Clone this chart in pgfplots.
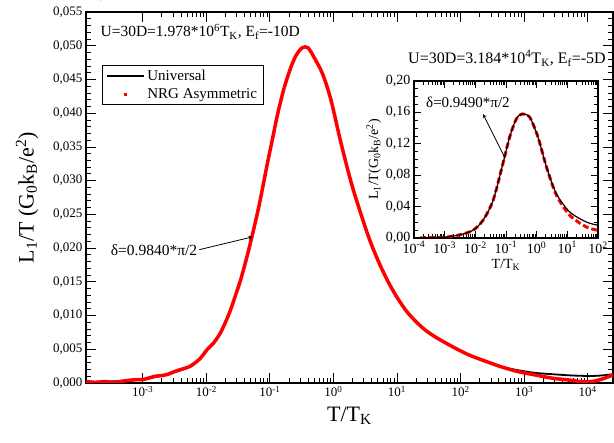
\documentclass[border=0pt]{standalone}
\usepackage{pgfplots}
\pgfplotsset{compat=1.18}
\usepackage{fontspec}
\setmainfont{Liberation Serif}

% main curve, universal
\pgfplotstableread{
x y
1.29e-4 0.0001
2.51e-4 0.0002
5.01e-4 0.0003
1.0e-3 0.0005
1.58e-3 0.0009
2.51e-3 0.0013
3.98e-3 0.0019
5.62e-3 0.0025
7.94e-3 0.0036
1.02e-2 0.0049
1.32e-2 0.0060
1.66e-2 0.0074
2.0e-2 0.0090
2.4e-2 0.0108
2.88e-2 0.0130
3.47e-2 0.0153
4.27e-2 0.0184
5.25e-2 0.0218
6.76e-2 0.0263
9.12e-2 0.0325
0.110 0.0362
0.132 0.0398
0.166 0.0436
0.214 0.0468
0.263 0.0487
0.324 0.0497
0.398 0.0497
0.501 0.0482
0.676 0.0458
0.912 0.0420
1.32 0.0355
2.0 0.0290
3.47 0.0220
5.01 0.0182
7.08 0.0152
10 0.0127
14.8 0.0104
25.1 0.0082
38.9 0.0069
70.8 0.0055
132 0.0042
251 0.0032
437 0.0024
794 0.0019
1480 0.0015
2820 0.0013
5010 0.00114
10200 0.00104
15800 0.0011
25100 0.0013
}\universal

% main curve, NRG
\pgfplotstableread{
x y
1.29e-4 0.0002
1.78e-4 0.0001
2.51e-4 0.0002
3.55e-4 0.0001
5.01e-4 0.0003
7.94e-4 0.0005
1.0e-3 0.0005
1.58e-3 0.0010
2.0e-3 0.0011
2.51e-3 0.0013
3.16e-3 0.0017
3.98e-3 0.0020
5.62e-3 0.0025
7.94e-3 0.0036
1.02e-2 0.0049
1.32e-2 0.0060
1.66e-2 0.0074
2.0e-2 0.0090
2.4e-2 0.0108
2.88e-2 0.0130
3.47e-2 0.0153
4.27e-2 0.0184
5.25e-2 0.0218
6.76e-2 0.0263
9.12e-2 0.0325
0.110 0.0362
0.132 0.0398
0.166 0.0436
0.214 0.0468
0.263 0.0487
0.324 0.0497
0.398 0.0497
0.501 0.0482
0.676 0.0458
0.912 0.0420
1.32 0.0355
2.0 0.0290
3.47 0.0220
5.01 0.0182
7.08 0.0152
10 0.0127
14.8 0.0104
25.1 0.0082
38.9 0.0069
70.8 0.0055
132 0.0042
251 0.0032
437 0.0024
794 0.0017
1480 0.0012
2820 0.0007
5010 0.00045
7940 0.0002
11200 0.0002
15800 0.0005
25100 0.0012
}\nrgmain

% inset, universal
\pgfplotstableread{
x y
1.0e-4 0.0
2.0e-4 0.0003
5.0e-4 0.0006
1.15e-3 0.0013
3.09e-3 0.0040
8.32e-3 0.0098
1.78e-2 0.0226
3.8e-2 0.0480
7.94e-2 0.0948
0.132 0.1287
0.219 0.1520
0.339 0.1580
0.589 0.1540
1.10 0.1287
2.09 0.0905
4.37 0.0566
12.0 0.0331
41.7 0.0204
100 0.0162
}\universalinset

% inset, NRG
\pgfplotstableread{
x y
1.6e-4 0.0
2.0e-4 0.0003
5.0e-4 0.0005
1.15e-3 0.0012
3.09e-3 0.0040
8.32e-3 0.0098
1.78e-2 0.0226
3.8e-2 0.0480
7.94e-2 0.0948
0.132 0.1287
0.219 0.1520
0.339 0.1580
0.589 0.1540
1.10 0.1287
2.09 0.0905
4.37 0.0550
12.0 0.0290
41.7 0.0140
100 0.0098
}\nrginset

\begin{document}
\begin{tikzpicture}
\begin{axis}[name=main, at={(0pt,0pt)}, anchor=south west,
  scale only axis, width=527pt, height=371pt,
  xmode=log, xmin=1.28e-4, xmax=2.5e4, ymin=0, ymax=0.055,
  xtick={1e-3,1e-2,1e-1,1,1e1,1e2,1e3,1e4},
  xticklabels={10\textsuperscript{-3},10\textsuperscript{-2},10\textsuperscript{-1},10\textsuperscript{0},10\textsuperscript{1},10\textsuperscript{2},10\textsuperscript{3},10\textsuperscript{4}},
  ytick={0,0.005,0.01,0.015,0.02,0.025,0.03,0.035,0.04,0.045,0.05,0.055},
  yticklabels={{0,000},{0,005},{0,010},{0,015},{0,020},{0,025},{0,030},{0,035},{0,040},{0,045},{0,050},{0,055}},
  minor y tick num=4,
  tick align=inside, major tick length=10pt, minor tick length=5pt,
  every tick/.style={black, line width=0.8pt},
  axis line style={line width=1.2pt},
  tick label style={font=\fontsize{13}{14}\selectfont},
  xlabel={T/T\textsubscript{K}},
  ylabel={L\textsubscript{1}/T (G\textsubscript{0}k\textsubscript{B}/e\textsuperscript{2})},
  label style={font=\fontsize{22}{26}\selectfont},
  xlabel style={yshift=-3pt},
  ylabel style={yshift=8pt},
  legend cell align=left,
  legend style={at={(rel axis cs:0.030,0.857)}, anchor=north west, draw=black,
    line width=0.8pt, font=\fontsize{15}{17}\selectfont, inner xsep=4pt, inner ysep=3pt,
    row sep=2pt},
  clip=true]
\addplot[black, line width=1.8pt, smooth,
  legend image code/.code={\draw[black, line width=2.2pt] (0pt,0pt) -- (37pt,0pt);}]
  table {\universal};
\addlegendentry{Universal}
\addplot[red, line width=3.5pt, smooth,
  legend image code/.code={\path[draw=none] (0pt,0pt) -- (37pt,0pt); \fill[red, draw=none] (17pt,-1.5pt) rectangle (20pt,1.5pt);}]
  table {\nrgmain};
\addlegendentry{NRG Asymmetric}
\node[anchor=west, font=\fontsize{15.5}{17}\selectfont] at (rel axis cs:0.021,0.946)
  {U=30D=1.978*10\textsuperscript{6}T\textsubscript{K}, E\textsubscript{f}=-10D};
\draw[-stealth, line width=0.8pt, shorten <=1pt] (axis cs:0.0075,0.01973) -- (axis cs:0.0533,0.02166);
\node[anchor=east, inner sep=1pt, font=\fontsize{15.5}{17}\selectfont] at (axis cs:0.0075,0.01973) {δ=0.9840*π/2};
\end{axis}

\begin{axis}[name=inset, at={(328pt,145pt)}, anchor=south west,
  scale only axis, width=184pt, height=157pt,
  axis background/.style={fill=white},
  xmode=log, xmin=1e-4, xmax=1e2, ymin=0, ymax=0.2,
  xtick={1e-4,1e-3,1e-2,1e-1,1,1e1,1e2},
  xticklabels={10\textsuperscript{-4},10\textsuperscript{-3},10\textsuperscript{-2},10\textsuperscript{-1},10\textsuperscript{0},10\textsuperscript{1},10\textsuperscript{2}},
  ytick={0,0.04,0.08,0.12,0.16,0.2},
  yticklabels={{0,00},{0,04},{0,08},{0,12},{0,16},{0,20}},
  minor y tick num=3,
  tick align=inside, major tick length=7pt, minor tick length=4pt,
  every tick/.style={black, line width=0.8pt},
  axis line style={line width=1.2pt},
  tick label style={font=\fontsize{14}{15}\selectfont},
  xlabel={T/T\textsubscript{K}},
  ylabel={L\textsubscript{1}/T(G\textsubscript{0}k\textsubscript{B}/e\textsuperscript{2})},
  label style={font=\fontsize{14}{16}\selectfont},
  xlabel style={yshift=1pt}, ylabel style={yshift=-2pt},
  clip=true]
\addplot[red, line width=3pt, dash pattern=on 6pt off 3pt, smooth] table {\nrginset};
\addplot[black, line width=1.2pt, smooth] table {\universalinset};
\draw[-stealth, line width=0.8pt] (axis cs:0.0927,0.1019) -- (axis cs:0.0178,0.158);
\node[font=\fontsize{15}{17}\selectfont] at (axis cs:0.00575,0.173) {δ=0.9490*π/2};
\end{axis}
\node[font=\fontsize{16}{17}\selectfont] at (421pt,325pt)
  {U=30D=3.184*10\textsuperscript{4}T\textsubscript{K}, E\textsubscript{f}=-5D};
\pgfresetboundingbox
\path (-86pt,-60pt) rectangle (528pt,383pt);
\end{tikzpicture}
\end{document}
